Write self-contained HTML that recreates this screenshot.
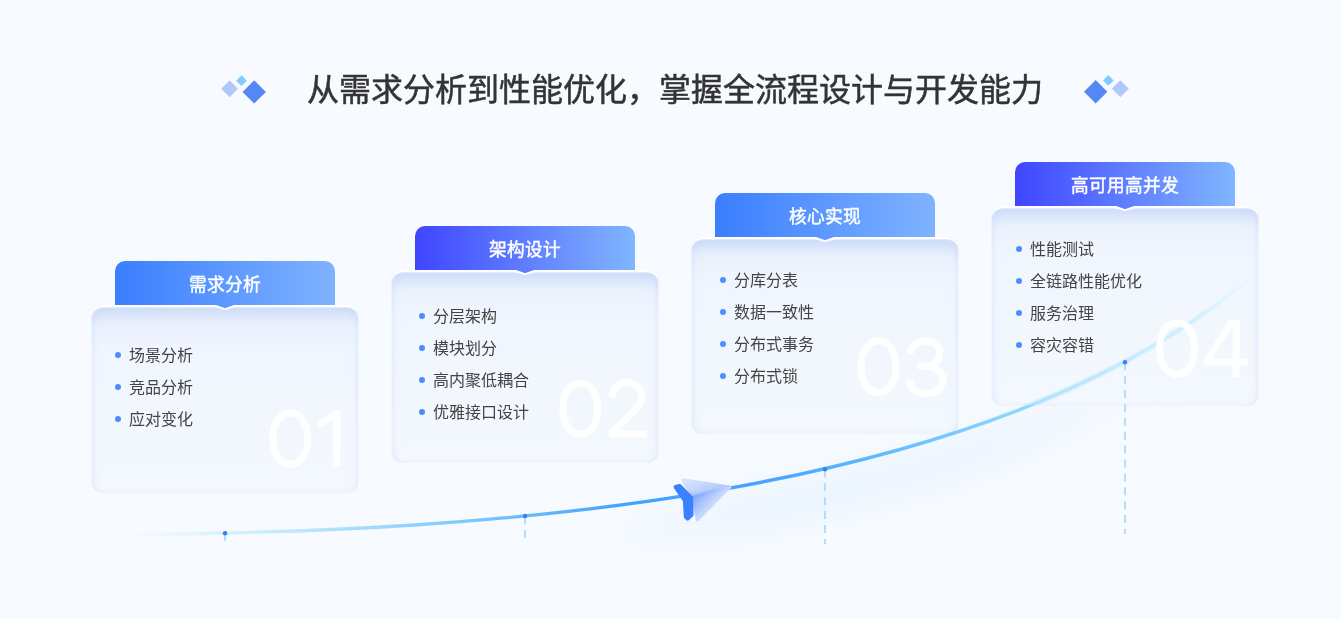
<!DOCTYPE html>
<html lang="zh-CN">
<head>
<meta charset="utf-8">
<style>
html,body{margin:0;padding:0;}
body{width:1341px;height:619px;overflow:hidden;background:#f7fbff;font-family:"Liberation Sans",sans-serif;position:relative;}
.root{position:absolute;left:0;top:0;width:1341px;height:619px;will-change:transform;}
svg.full{position:absolute;left:0;top:0;}
.title{position:absolute;left:307px;top:66px;font-size:32px;line-height:48px;letter-spacing:0px;color:#333;white-space:nowrap;-webkit-text-stroke:0.5px #333;}
.tab{position:absolute;width:220px;height:46px;border-radius:10px 10px 0 0;color:#fff;font-size:17.7px;text-align:center;line-height:48px;-webkit-text-stroke:0.45px #fff;}
.tab.a{background:linear-gradient(90deg,#3b7eff,#7fb3ff);}
.tab.b{background:linear-gradient(90deg,#3f45ff,#80b6ff);}
.body{position:absolute;width:268px;border-radius:12px;box-sizing:border-box;
  background:linear-gradient(180deg,rgba(214,226,250,0.88) 0px,rgba(230,238,252,0.8) 18px,rgba(239,245,254,0.78) 50px,rgba(243,247,254,0.78) 100%);
  box-shadow:inset 0 2px 0 #fff, inset 0 2px 1px 1px rgba(255,255,255,0.5), inset 0 18px 16px -10px rgba(165,192,245,0.38), inset 6px 0 7px -5px rgba(198,216,250,0.55), inset -6px 0 7px -5px rgba(198,216,250,0.55), inset 0 -4px 5px -4px rgba(205,222,250,0.3);}
.item{position:absolute;font-size:16px;line-height:20px;color:#444;white-space:nowrap;}
.dot{position:absolute;width:6px;height:6px;border-radius:3px;background:#4f8ef6;}
</style>
</head>
<body>
<div class="root">
<svg class="full" width="1341" height="619" viewBox="0 0 1341 619">
  <polygon points="229.6,80.4 238,88.8 229.6,97.2 221.2,88.8" fill="#b1c8fe"/>
  <polygon points="241.5,75.3 246.9,80.7 241.5,86.1 236.1,80.7" fill="#82cdff"/>
  <polygon points="254.2,80.2 265.9,91.9 254.2,103.6 242.5,91.9" fill="#5588f4"/>
  <polygon points="1095.7,80.1 1107.4,91.8 1095.7,103.5 1084,91.8" fill="#5588f4"/>
  <polygon points="1108.3,75 1113.7,80.4 1108.3,85.8 1102.9,80.4" fill="#82cdff"/>
  <polygon points="1120.3,80.2 1128.8,88.7 1120.3,97.2 1111.8,88.7" fill="#b1c8fe"/>
</svg>
<div class="title">从需求分析到性能优化，掌握全流程设计与开发能力</div>
<svg class="full" width="1341" height="619" viewBox="0 0 1341 619">
  <defs><linearGradient id="glowg" x1="600" y1="0" x2="1200" y2="0" gradientUnits="userSpaceOnUse"><stop offset="0" stop-color="#d6e8fd" stop-opacity="0"/><stop offset="0.25" stop-color="#d9eafd" stop-opacity="0.35"/><stop offset="0.6" stop-color="#d9eafd" stop-opacity="0.32"/><stop offset="1" stop-color="#d6e8fd" stop-opacity="0"/></linearGradient><filter id="blur12" filterUnits="userSpaceOnUse" x="0" y="0" width="1341" height="619"><feGaussianBlur stdDeviation="13"/></filter></defs>
  <polygon points="600.5,510.6 625.4,507.4 650.2,504.0 674.9,500.3 699.6,496.3 724.1,492.1 748.6,487.7 772.9,482.9 797.1,477.9 821.1,472.6 844.9,466.9 868.5,461.0 891.8,454.8 915.0,448.2 937.8,441.3 960.4,434.0 982.7,426.4 1004.6,418.4 1026.3,410.1 1047.5,401.4 1068.4,392.3 1089.0,382.9 1109.1,373.0 1128.7,362.7 1148.0,352.0 1166.7,340.9 1185.0,329.4 1185.0,376.4 1166.7,387.9 1148.0,399.0 1128.7,409.7 1109.1,420.0 1089.0,429.9 1068.4,439.3 1047.5,448.4 1026.3,457.1 1004.6,465.4 982.7,473.4 960.4,481.0 937.8,488.3 915.0,495.2 891.8,501.8 868.5,508.0 844.9,513.9 821.1,519.6 797.1,524.9 772.9,529.9 748.6,534.7 724.1,539.1 699.6,543.3 674.9,547.3 650.2,551.0 625.4,554.4 600.5,557.6" fill="url(#glowg)" filter="url(#blur12)"/>
</svg>
<div class="tab a" style="left:115px;top:261px;">需求分析</div>
<div class="body" style="left:91px;top:305px;height:188px;"></div>
<div class="tab b" style="left:415px;top:226px;">架构设计</div>
<div class="body" style="left:391px;top:270px;height:193px;"></div>
<div class="tab a" style="left:715px;top:193px;">核心实现</div>
<div class="body" style="left:691px;top:237px;height:197px;"></div>
<div class="tab b" style="left:1015px;top:162px;">高可用高并发</div>
<div class="body" style="left:991px;top:206px;height:200px;"></div>

<svg class="full" width="1341" height="619" viewBox="0 0 1341 619">
  <defs>
    <linearGradient id="cg" x1="123" y1="0" x2="1253" y2="0" gradientUnits="userSpaceOnUse">
      <stop offset="0" stop-color="#d8f0fd" stop-opacity="0"/>
      <stop offset="0.09" stop-color="#cfeefc" stop-opacity="0.75"/>
      <stop offset="0.184" stop-color="#b2e0fb"/>
      <stop offset="0.264" stop-color="#8ed0fd"/>
      <stop offset="0.352" stop-color="#6cbcff"/>
      <stop offset="0.441" stop-color="#44a2ff"/>
      <stop offset="0.565" stop-color="#46a3ff"/>
      <stop offset="0.672" stop-color="#62bbfd"/>
      <stop offset="0.778" stop-color="#8ad6fb"/>
      <stop offset="0.889" stop-color="#b5e6fb"/>
      <stop offset="0.956" stop-color="#c3ebfd" stop-opacity="0.85"/>
      <stop offset="1" stop-color="#d0f0fd" stop-opacity="0.15"/>
    </linearGradient>
    <clipPath id="out4"><path clip-rule="evenodd" d="M0,0 H1341 V619 H0 Z M991,206 H1259 V405 H991 Z"/></clipPath>
    <clipPath id="in4"><rect x="991" y="206" width="268" height="199"/></clipPath>
    <filter id="b1" x="-5%" y="-5%" width="110%" height="110%"><feGaussianBlur stdDeviation="0.9"/></filter>
  </defs>
  <path d="M123,534.5 C484.1,532.2 988.3,502.1 1252.9,275.7" fill="none" stroke="url(#cg)" stroke-width="3.4" clip-path="url(#out4)"/>
  <g clip-path="url(#in4)"><path d="M123,534.5 C484.1,532.2 988.3,502.1 1252.9,275.7" fill="none" stroke="url(#cg)" stroke-width="3.6" filter="url(#b1)" opacity="0.9"/></g>
  <g stroke="#b0defb" stroke-width="2" stroke-dasharray="8 5.9">
    <line x1="225" y1="533.3" x2="225" y2="540.8"/>
    <line x1="525" y1="516.2" x2="525" y2="538.5"/>
    <line x1="825" y1="469.4" x2="825" y2="544"/>
    <line x1="1125" y1="362.2" x2="1125" y2="534"/>
  </g>
  <g fill="#3b7ef2">
    <circle cx="225" cy="533.3" r="2.2"/>
    <circle cx="525" cy="516" r="2.2"/>
    <circle cx="825" cy="469.2" r="2.2"/>
    <circle cx="1125" cy="362.2" r="2.2"/>
  </g>
</svg>
<svg class="full" width="1341" height="619" viewBox="0 0 1341 619">
<polygon points="214.5,304.5 235.5,304.5 225,308.2" fill="#5d96ff"/>
<polyline points="214.5,306.0 223.8,308.9 226.2,308.9 235.5,306.0" fill="none" stroke="#fff" stroke-width="2" stroke-linejoin="round" stroke-linecap="round"/>
<polygon points="514.5,269.5 535.5,269.5 525,273.2" fill="#5f7cff"/>
<polyline points="514.5,271.0 523.8,273.9 526.2,273.9 535.5,271.0" fill="none" stroke="#fff" stroke-width="2" stroke-linejoin="round" stroke-linecap="round"/>
<polygon points="814.5,236.5 835.5,236.5 825,240.2" fill="#5d96ff"/>
<polyline points="814.5,238.0 823.8,240.9 826.2,240.9 835.5,238.0" fill="none" stroke="#fff" stroke-width="2" stroke-linejoin="round" stroke-linecap="round"/>
<polygon points="1114.5,205.5 1135.5,205.5 1125,209.2" fill="#5f7cff"/>
<polyline points="1114.5,207.0 1123.8,209.9 1126.2,209.9 1135.5,207.0" fill="none" stroke="#fff" stroke-width="2" stroke-linejoin="round" stroke-linecap="round"/>

<defs><clipPath id="c2"><rect x="608.8" y="370" width="40" height="67"/></clipPath></defs>
<g fill="none" stroke="#fff" stroke-width="7" opacity="0.93">
<path d="M290.2,412.90000000000003 C299.94,412.90000000000003 307.59999999999997,422.67 307.59999999999997,438.6 C307.59999999999997,454.53 299.94,464.3 290.2,464.3 C280.46,464.3 272.8,454.53 272.8,438.6 C272.8,422.67 280.46,412.90000000000003 290.2,412.90000000000003 Z"/>
<path d="M580.2,382.90000000000003 C589.94,382.90000000000003 597.6,392.67 597.6,408.6 C597.6,424.53 589.94,434.3 580.2,434.3 C570.46,434.3 562.8000000000001,424.53 562.8000000000001,408.6 C562.8000000000001,392.67 570.46,382.90000000000003 580.2,382.90000000000003 Z"/>
<path d="M878.55,341.09999999999997 C888.32,341.09999999999997 896.0,350.90 896.0,366.9 C896.0,382.90 888.32,392.7 878.55,392.7 C868.78,392.7 861.0999999999999,382.90 861.0999999999999,366.9 C861.0999999999999,350.90 868.78,341.09999999999997 878.55,341.09999999999997 Z"/>
<path d="M1177.1,322.70000000000005 C1186.84,322.70000000000005 1194.5,332.54 1194.5,348.6 C1194.5,364.66 1186.84,374.5 1177.1,374.5 C1167.36,374.5 1159.6999999999998,364.66 1159.6999999999998,348.6 C1159.6999999999998,332.54 1167.36,322.70000000000005 1177.1,322.70000000000005 Z"/>
<path clip-path="url(#c2)" d="M612,397.1 C612,389 618.5,382.6 627,382.6 C635.5,382.6 641.6,388.5 641.6,396.5 C641.6,402 639,406 634,411 L609.5,435.5"/>
<path d="M910.5,353.7 C910.5,346 917,341 925.5,341 C934,341 939.6,346 939.6,353 C939.6,361 933.5,366 925.5,366 L917.9,366 M921,366 L925.5,366 C935.5,366 942.8,371.8 942.8,380 C942.8,388.5 935.5,393.5 925.5,393.5 C915.5,393.5 909.5,388 909.5,379.6"/>
</g>
<g fill="#fff" opacity="0.93">
<rect x="608.8" y="430.5" width="37.6" height="6.4"/>
<polygon points="334.5,410.3 340.4,410.3 340.4,466.7 333.3,466.7 333.3,419.5 318.4,428.2 318.4,421.8"/>
<path fill-rule="evenodd" d="M1228.9,320.2 L1239.9,320.2 L1239.9,359.1 L1247.8,359.1 L1247.8,365.2 L1239.9,365.2 L1239.9,376.9 L1232.5,376.9 L1232.5,365.2 L1204.2,365.2 L1204.2,359.1 Z M1232.5,326.5 L1232.5,359.1 L1211.5,359.1 Z"/>
</g>

<defs>
<linearGradient id="pw1" x1="690" y1="480" x2="697" y2="497" gradientUnits="userSpaceOnUse">
<stop offset="0" stop-color="#d3e0fd"/><stop offset="1" stop-color="#adc5fb"/></linearGradient>
<linearGradient id="pw2" x1="696" y1="495" x2="713" y2="511" gradientUnits="userSpaceOnUse">
<stop offset="0" stop-color="#7fa4fa"/><stop offset="1" stop-color="#d6e3fd"/></linearGradient>
</defs>
<polygon points="683,480 729.5,487.3 693.5,497.5" fill="url(#pw1)" stroke="url(#pw1)" stroke-width="3.5" stroke-linejoin="round" opacity="0.9"/>
<polygon points="693.5,497.5 729.5,487.3 697.5,519.5" fill="url(#pw2)" stroke="url(#pw2)" stroke-width="3.5" stroke-linejoin="round" opacity="0.9"/>
<path d="M675.6,487 L679.6,485.9 L691.2,498 L691.6,514.8 L687.6,518.6 L685.8,516.9 L684.9,500.6 Z" fill="#3b80ff" stroke="#3b80ff" stroke-width="4" stroke-linejoin="round"/>
</svg>
<div class="dot" style="left:114.9px;top:352.2px"></div><div class="item" style="left:128.7px;top:346.3px">场景分析</div>
<div class="dot" style="left:114.9px;top:384.0px"></div><div class="item" style="left:128.7px;top:378.1px">竞品分析</div>
<div class="dot" style="left:114.9px;top:416.0px"></div><div class="item" style="left:128.7px;top:410.1px">应对变化</div>
<div class="dot" style="left:419.0px;top:313.0px"></div><div class="item" style="left:432.8px;top:307.1px">分层架构</div>
<div class="dot" style="left:419.0px;top:345.0px"></div><div class="item" style="left:432.8px;top:339.1px">模块划分</div>
<div class="dot" style="left:419.0px;top:377.0px"></div><div class="item" style="left:432.8px;top:371.1px">高内聚低耦合</div>
<div class="dot" style="left:419.0px;top:409.0px"></div><div class="item" style="left:432.8px;top:403.1px">优雅接口设计</div>
<div class="dot" style="left:720.0px;top:277.0px"></div><div class="item" style="left:733.8px;top:271.1px">分库分表</div>
<div class="dot" style="left:720.0px;top:309.0px"></div><div class="item" style="left:733.8px;top:303.1px">数据一致性</div>
<div class="dot" style="left:720.0px;top:341.0px"></div><div class="item" style="left:733.8px;top:335.1px">分布式事务</div>
<div class="dot" style="left:720.0px;top:373.0px"></div><div class="item" style="left:733.8px;top:367.1px">分布式锁</div>
<div class="dot" style="left:1016.0px;top:246.0px"></div><div class="item" style="left:1029.8px;top:240.1px">性能测试</div>
<div class="dot" style="left:1016.0px;top:278.0px"></div><div class="item" style="left:1029.8px;top:272.1px">全链路性能优化</div>
<div class="dot" style="left:1016.0px;top:310.0px"></div><div class="item" style="left:1029.8px;top:304.1px">服务治理</div>
<div class="dot" style="left:1016.0px;top:342.0px"></div><div class="item" style="left:1029.8px;top:336.1px">容灾容错</div>
</div>
</body>
</html>
